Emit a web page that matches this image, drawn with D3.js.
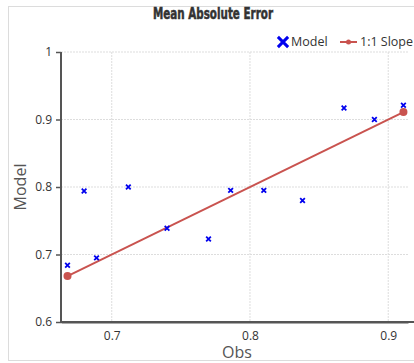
<!DOCTYPE html>
<html>
<head>
<meta charset="utf-8">
<script src="https://cdn.jsdelivr.net/npm/d3@7"></script>
<style>
  body { margin: 0; background: #fff; }
  svg { display: block; font-family: "Open Sans", "Noto Sans", sans-serif; }
</style>
</head>
<body>
<div id="vis-container"></div>
<script>
var obs   = [0.668, 0.680, 0.689, 0.712, 0.740, 0.770, 0.786, 0.810, 0.838, 0.868, 0.890, 0.911];
var model = [0.684, 0.794, 0.695, 0.800, 0.739, 0.723, 0.795, 0.795, 0.780, 0.917, 0.900, 0.921];
var xTicks = [0.7, 0.8, 0.9];
var yTicks = [0.6, 0.7, 0.8, 0.9, 1];
var xDomain = [0.6633, 0.9143];
var yDomain = [0.6, 1];

var width = 414, height = 363;
var margin = { top: 52, right: 6, bottom: 41, left: 61 };

var svg = d3.select("#vis-container")
    .append("svg")
    .attr("width", width)
    .attr("height", height);

// outer frame
svg.append("rect")
    .attr("x", 8.5).attr("y", 6.5)
    .attr("width", 420).attr("height", 354)
    .attr("fill", "none")
    .attr("stroke", "#dcdcdc");

var xScale = d3.scaleLinear()
    .domain(xDomain)
    .range([margin.left, width - margin.right]);

var yScale = d3.scaleLinear()
    .domain(yDomain)
    .range([height - margin.bottom, margin.top]);

// grid
svg.append("g")
    .selectAll("line")
    .data(xTicks)
    .enter().append("line")
    .attr("x1", function(d) { return xScale(d); })
    .attr("x2", function(d) { return xScale(d); })
    .attr("y1", yScale(1))
    .attr("y2", yScale(0.6))
    .attr("stroke", "#ddd")
    .attr("stroke-dasharray", "2,1");

svg.append("g")
    .selectAll("line")
    .data(yTicks.slice(1))
    .enter().append("line")
    .attr("x1", xScale.range()[0])
    .attr("x2", xScale.range()[1])
    .attr("y1", function(d) { return yScale(d); })
    .attr("y2", function(d) { return yScale(d); })
    .attr("stroke", "#ddd")
    .attr("stroke-dasharray", "2,1");

// axes
var xAxis = d3.axisBottom(xScale).tickValues(xTicks).tickSize(0).tickPadding(9)
    .tickFormat(d3.format(".1f"));
var yAxis = d3.axisLeft(yScale).tickValues(yTicks).tickSize(5).tickPadding(4)
    .tickFormat(function(d) { return d === 1 ? "1" : d3.format(".1f")(d); });

var gx = svg.append("g")
    .attr("transform", "translate(0," + yScale(0.6) + ")")
    .call(xAxis);
var gy = svg.append("g")
    .attr("transform", "translate(" + margin.left + ",0)")
    .call(yAxis);

[gx, gy].forEach(function(g) {
    g.select(".domain").attr("stroke", "#555").attr("stroke-width", 2);
    g.selectAll(".tick line").attr("stroke", "#555").attr("stroke-width", 1.5);
    g.selectAll("text").attr("fill", "#333").style("font-size", "12px")
        .style("font-family", "'Open Sans', 'Noto Sans', sans-serif");
});
gy.select(".domain").attr("d", "M0," + yScale(1) + "V" + yScale(0.6) + "H" + xScale.range()[1]);

// axis titles
svg.append("text")
    .attr("x", 237).attr("y", 358)
    .attr("text-anchor", "middle")
    .attr("fill", "#555")
    .style("font-size", "16px")
    .text("Obs");

svg.append("text")
    .attr("transform", "translate(26," + yScale(0.8) + ") rotate(-90)")
    .attr("text-anchor", "middle")
    .attr("fill", "#555")
    .style("font-size", "16px")
    .text("Model");

// title
svg.append("text")
    .attr("x", 213).attr("y", 19)
    .attr("text-anchor", "middle")
    .attr("fill", "#333")
    .attr("stroke", "#333")
    .attr("stroke-width", 0.5)
    .attr("textLength", 120)
    .attr("lengthAdjust", "spacingAndGlyphs")
    .style("font-family", "'DejaVu Sans Condensed', 'DejaVu Sans', sans-serif")
    .style("font-weight", "bold")
    .style("font-size", "15px")
    .text("Mean Absolute Error");

// 1:1 line
var lineData = [d3.min(obs), d3.max(obs)];
svg.append("path")
    .datum(lineData)
    .attr("fill", "none")
    .attr("stroke", "#c9534f")
    .attr("stroke-width", 2)
    .attr("d", d3.line()
        .x(function(d) { return xScale(d); })
        .y(function(d) { return yScale(d); }));

svg.selectAll(".endpt")
    .data(lineData)
    .enter().append("circle")
    .attr("class", "endpt")
    .attr("cx", function(d) { return xScale(d); })
    .attr("cy", function(d) { return yScale(d); })
    .attr("r", 4)
    .attr("fill", "#c9534f");

// model points
var cross = d3.symbol().type(d3.symbolX).size(16);
svg.selectAll(".pt")
    .data(obs)
    .enter().append("path")
    .attr("class", "pt")
    .attr("d", cross)
    .attr("transform", function(d, i) {
        return "translate(" + xScale(d) + "," + yScale(model[i]) + ")";
    })
    .attr("fill", "none")
    .attr("stroke", "#0000ee")
    .attr("stroke-width", 1.8);

// legend
var leg = svg.append("g");
leg.append("path")
    .attr("d", d3.symbol().type(d3.symbolX).size(70))
    .attr("transform", "translate(283,42)")
    .attr("stroke", "#0000ee")
    .attr("stroke-width", 3);
leg.append("text")
    .attr("x", 291).attr("y", 46)
    .attr("fill", "#333")
    .style("font-size", "12.5px")
    .text("Model");
leg.append("line")
    .attr("x1", 340).attr("x2", 357)
    .attr("y1", 42).attr("y2", 42)
    .attr("stroke", "#c9534f")
    .attr("stroke-width", 2);
leg.append("circle")
    .attr("cx", 348.5).attr("cy", 42).attr("r", 2.5)
    .attr("fill", "#c9534f");
leg.append("text")
    .attr("x", 360).attr("y", 46)
    .attr("fill", "#333")
    .style("font-size", "12.5px")
    .text("1:1 Slope");
</script>
</body>
</html>
